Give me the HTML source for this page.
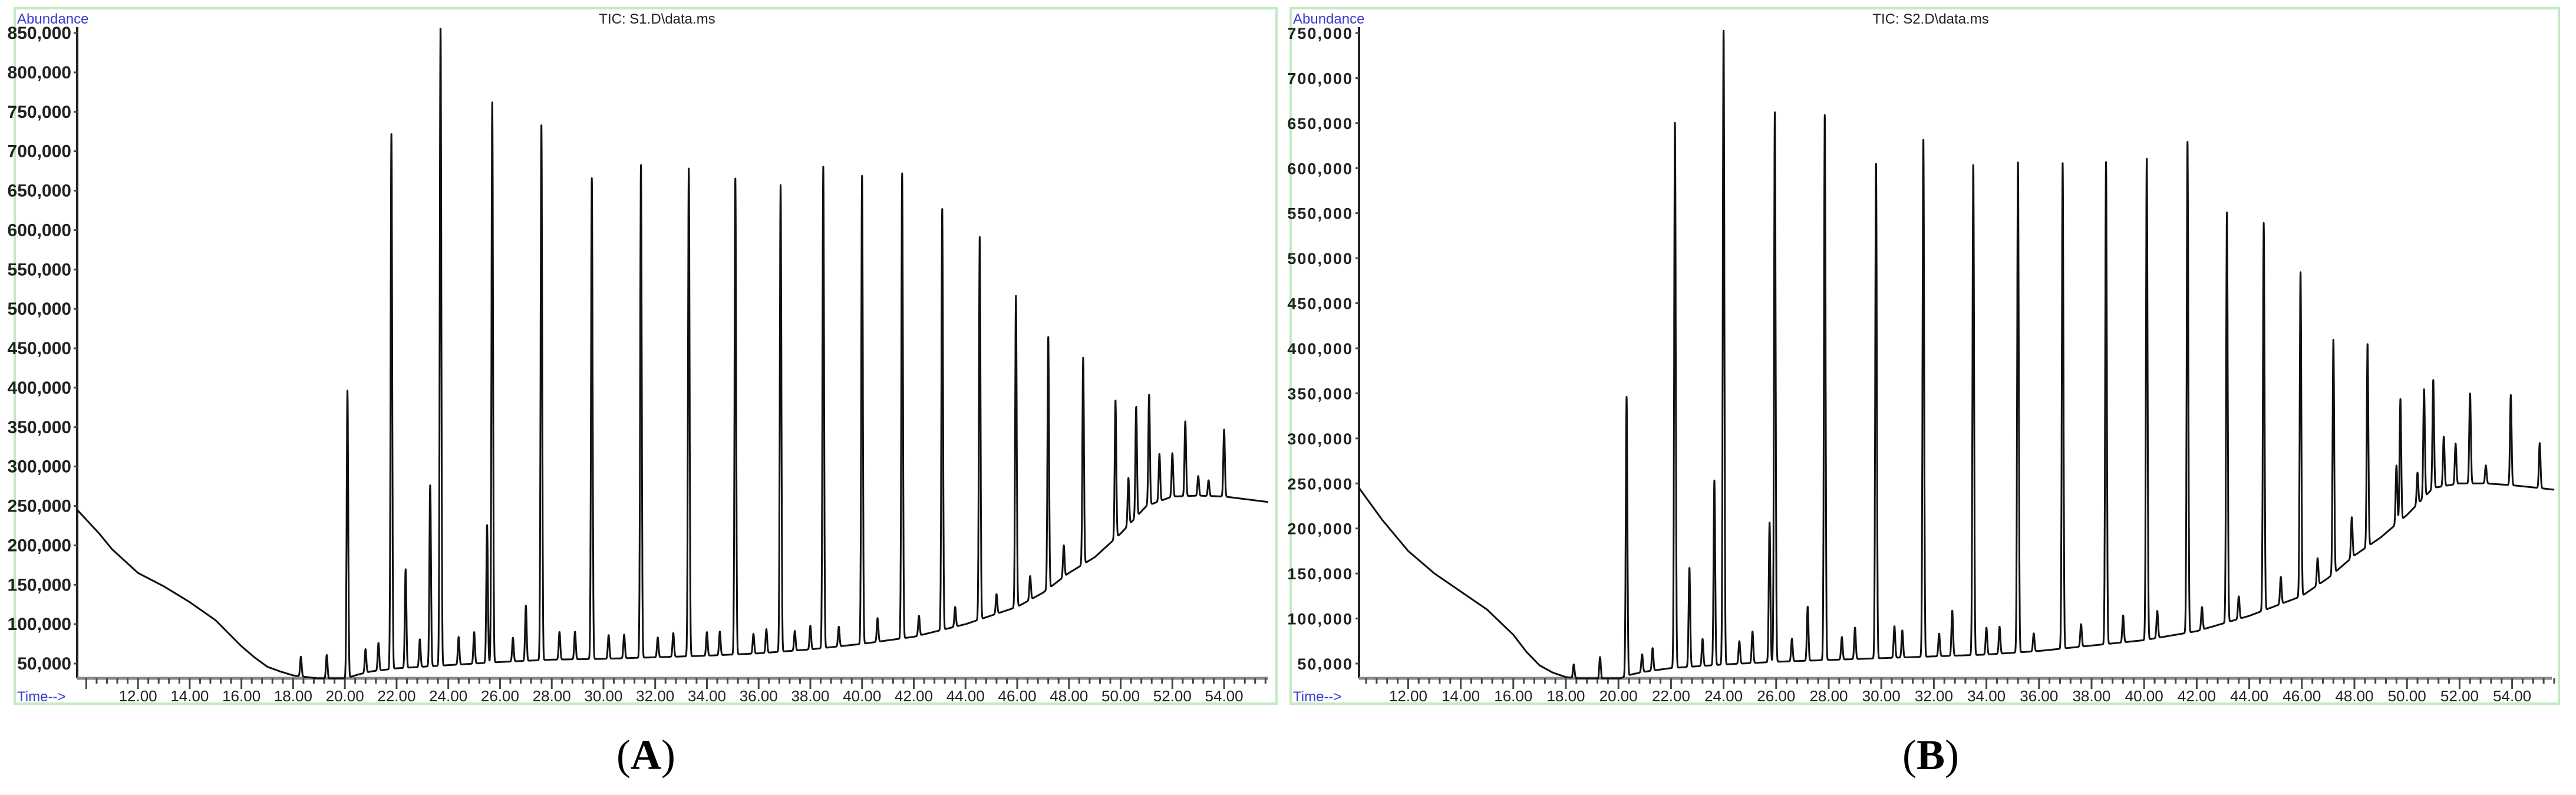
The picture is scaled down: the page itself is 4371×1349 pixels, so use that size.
<!DOCTYPE html>
<html><head><meta charset="utf-8"><style>
html,body{margin:0;padding:0;background:#fff;}
svg{display:block;}
text{font-family:"Liberation Sans",Arial,sans-serif;}
text.serif{font-family:"Liberation Serif",serif;}
</style></head><body>
<svg id="chart" width="4371" height="1349" viewBox="0 0 4371 1349" xmlns="http://www.w3.org/2000/svg"></svg>
<script>
// ---------- Panel A data ----------
const aBaseTimes = [9.65,10.5,11,12,13,14,15,16,16.5,17,17.5,18,19,20,20.5,21,22,24,26,28,30,32,34,36,38,40,42,44,46,47,48,49,50,51,52,53,54,55.7];
const aBaseVals  = [245000,215000,195000,165000,148000,128000,105000,72000,58000,46000,40000,35000,31000,31000,36000,40000,44000,48000,52000,55000,56000,58000,60000,63000,68000,75000,84000,100000,122000,140000,165000,185000,215000,250000,262000,263000,262000,255000];
const aPeakTimes = [18.3,19.3,20.1,20.8,21.3,21.8,22.35,22.9,23.3,23.7,24.4,25.0,25.5,25.7,26.5,27.0,27.6,28.3,28.9,29.55,30.2,30.8,31.45,32.1,32.7,33.3,34.0,34.5,35.1,35.8,36.3,36.85,37.4,38.0,38.5,39.1,40.0,40.6,41.55,42.2,43.1,43.6,44.55,45.2,45.95,46.5,47.2,47.8,48.55,49.8,50.3,50.6,51.1,51.5,52.0,52.5,53.0,53.4,54.0];
const aPeakVals  = [25000,30000,365000,30000,35000,680000,125000,35000,230000,810000,35000,40000,175000,712000,30000,70000,680000,35000,35000,610000,30000,30000,625000,25000,30000,620000,30000,30000,605000,25000,30000,592000,25000,30000,612000,25000,595000,30000,590000,25000,535000,25000,485000,25000,395000,30000,320000,40000,262000,175000,60000,140000,140000,60000,55000,95000,25000,20000,85000];
// ---------- Panel B data ----------
const bBaseTimes = [10.13,11,12,13,14,15,16,16.5,17,17.5,18,19,20,20.5,21,22,24,26,28,30,32,34,36,38,40,42,44,46,47,48,49,50,51,52,53,54,55,55.6];
const bBaseVals  = [245000,210000,175000,150000,130000,110000,82000,63000,48000,40000,35000,32000,33000,38000,41000,45000,49000,52000,54000,56000,58000,60000,64000,70000,76000,86000,103000,125000,145000,170000,190000,215000,245000,250000,250000,248000,245000,243000];
const bPeakTimes = [18.3,19.3,20.31,20.9,21.3,22.15,22.7,23.2,23.65,24.0,24.6,25.1,25.75,25.95,26.6,27.2,27.85,28.5,29.0,29.8,30.5,30.8,31.6,32.2,32.7,33.5,34.0,34.5,35.2,35.8,36.9,37.6,38.55,39.2,40.1,40.5,41.65,42.2,43.15,43.6,44.55,45.2,45.95,46.6,47.2,47.9,48.5,49.6,49.75,50.4,50.65,51.0,51.4,51.85,52.4,53.0,53.95,55.05];
const bPeakVals  = [15000,25000,310000,20000,25000,605000,110000,30000,205000,705000,25000,35000,155000,610000,25000,60000,605000,25000,35000,550000,35000,30000,575000,25000,50000,545000,30000,30000,545000,20000,540000,25000,535000,30000,535000,30000,545000,25000,455000,25000,430000,30000,360000,30000,260000,45000,225000,65000,135000,35000,120000,120000,55000,45000,100000,20000,100000,50000];

const NS='http://www.w3.org/2000/svg';
const svg=document.getElementById('chart');
function mk(tag,attrs,parent){const e=document.createElementNS(NS,tag);for(const k in attrs)e.setAttribute(k,attrs[k]);(parent||svg).appendChild(e);return e;}
function interp(ts,vs,t){if(t<=ts[0])return vs[0];for(let i=1;i<ts.length;i++){if(t<=ts[i]){const f=(t-ts[i-1])/(ts[i]-ts[i-1]);return vs[i-1]+f*(vs[i]-vs[i-1]);}}return vs[vs.length-1];}

function panel(cfg){
  const g=mk('g',{});
  
  
  const border=mk('rect',{x:cfg.bx,y:14,width:cfg.bw,height:1180,fill:'none',stroke:'#c4eac4','stroke-width':4},g);
  
  
  const xs=t=>cfg.ax+(t-cfg.t0)*cfg.pxMin;
  const ys=v=>Math.min(cfg.axisY,cfg.y0-(v-cfg.v0)*cfg.pxPer);
  const ab=mk('text',{x:cfg.bx+4,y:40,'font-size':24,fill:'#3b3bd0'},g);ab.textContent='Abundance';
  
  const tm=mk('text',{x:cfg.bx+4,y:1190,'font-size':24,fill:'#3b3bd0'},g);tm.textContent='Time-->';
  
  const ti=mk('text',{x:cfg.titleX,y:40,'font-size':24,fill:'#222','text-anchor':'middle'},g);ti.textContent=cfg.title;
  
  const ya=mk('line',{x1:cfg.ax,y1:46,x2:cfg.ax,y2:cfg.axisY,stroke:'#222','stroke-width':4},g);
  
  const xa=mk('line',{x1:cfg.ax,y1:cfg.axisY,x2:cfg.xEnd,y2:cfg.axisY,stroke:'#888','stroke-width':5},g);
  
  for(let v=50000;v<=cfg.vmax;v+=50000){
    const y=cfg.y0-(v-cfg.v0)*cfg.pxPer;
    mk('line',{x1:cfg.ax-6,y1:y,x2:cfg.ax,y2:y,stroke:'#444','stroke-width':3},g);
    const t=mk('text',{x:cfg.ax-10,y:y+10,'font-size':cfg.yFont,'font-weight':'bold',fill:'#222','text-anchor':'end','letter-spacing':cfg.ls},g);
    t.textContent=v.toLocaleString('en-US');
    
  }
  for(let k=Math.ceil(cfg.t0/0.4);k*0.4<=cfg.t1;k++){
    const t=k*0.4;const x=xs(t);const major=Math.abs(t/2-Math.round(t/2))<1e-6;
    mk('line',{x1:x,y1:cfg.axisY,x2:x,y2:cfg.axisY+(major?18:9),stroke:'#444','stroke-width':3},g);
  }
  for(let t=12;t<=54;t+=2){
    const lb=mk('text',{x:xs(t),y:1190,'font-size':26,fill:'#222','text-anchor':'middle'},g);
    lb.textContent=t.toFixed(2);
    
  }
  let d='';
  for(let t=cfg.t0;t<=cfg.t1;t+=0.004){
    let v=interp(cfg.bt,cfg.bv,t);
    for(let i=0;i<cfg.pt.length;i++){const dt=(t-cfg.pt[i])/0.03;if(Math.abs(dt)<5)v+=cfg.pv[i]*Math.exp(-dt*dt/2);}
    d+=(d?'L':'M')+xs(t).toFixed(1)+' '+ys(v).toFixed(1);
  }
  const p=mk('path',{d:d,fill:'none',stroke:'#111','stroke-width':3,'stroke-linejoin':'round'},g);
  
  const lab=mk('text',{x:cfg.labX,y:1305,'font-size':72,'class':'serif',fill:'#000','text-anchor':'middle'},g);
  lab.innerHTML='(<tspan font-weight="bold">'+cfg.letter+'</tspan>)';
  
}
panel({name:'panel-a',bx:25,bw:2141,ax:131,axisY:1151,xEnd:2152,t0:9.65,t1:55.7,pxMin:43.88,y0:1126,v0:50000,pxPer:66.875/50000,vmax:850000,
  yFont:30,ls:0,title:'TIC: S1.D\\data.ms',titleX:1115,labX:1096,letter:'A',bt:aBaseTimes,bv:aBaseVals,pt:aPeakTimes,pv:aPeakVals});
panel({name:'panel-b',bx:2190,bw:2152,ax:2306,axisY:1151,xEnd:4330,t0:10.13,t1:55.6,pxMin:44.6,y0:1126,v0:50000,pxPer:76.43/50000,vmax:750000,
  yFont:27,ls:2,title:'TIC: S2.D\\data.ms',titleX:3276,labX:3276,letter:'B',bt:bBaseTimes,bv:bBaseVals,pt:bPeakTimes,pv:bPeakVals});
</script>
</body></html>
